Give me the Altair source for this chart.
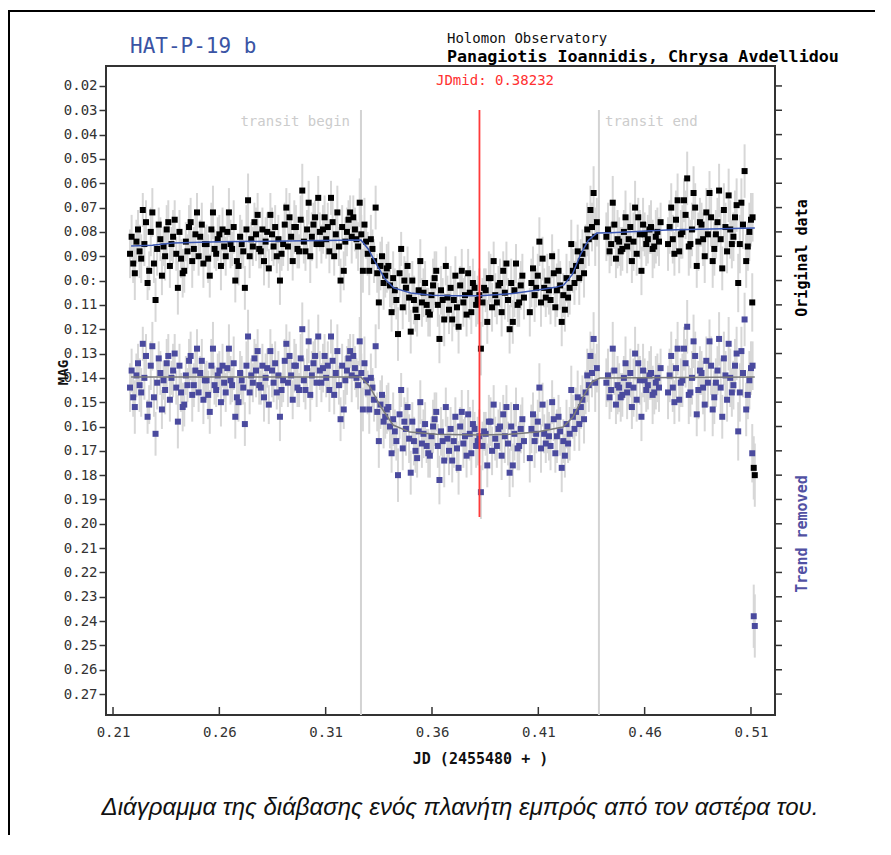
import altair as alt
import pandas as pd

# ---------------- data ----------------
# first batch of exposures
jd = [
    0.2180, 0.2195, 0.2210, 0.2225, 0.2240, 0.2255, 0.2270, 0.2285, 0.2300, 0.2315,
    0.2330, 0.2345, 0.2360, 0.2375, 0.2390, 0.2405, 0.2420, 0.2435, 0.2450, 0.2465,
    0.2480, 0.2495, 0.2510, 0.2525, 0.2540, 0.2555, 0.2570, 0.2585, 0.2600, 0.2615,
    0.2630, 0.2645, 0.2660, 0.2675, 0.2690, 0.2705, 0.2720, 0.2735, 0.2750, 0.2765,
    0.2780, 0.2795, 0.2810, 0.2825, 0.2840, 0.2855, 0.2870, 0.2885, 0.2900, 0.2915,
    0.2930, 0.2945, 0.2960, 0.2975, 0.2990, 0.3005, 0.3020, 0.3035, 0.3050, 0.3065,
    0.3080, 0.3095, 0.3110, 0.3125, 0.3140, 0.3155, 0.3170, 0.3185, 0.3200, 0.3215,
    0.3230, 0.3245, 0.3260, 0.3275, 0.3290, 0.3305, 0.3320, 0.3335, 0.3350, 0.3365,
    0.3380, 0.3395, 0.3410, 0.3425, 0.3440, 0.3455, 0.3470, 0.3485, 0.3500, 0.3515,
    0.3530, 0.3545, 0.3560, 0.3575, 0.3590, 0.3605, 0.3620, 0.3635, 0.3650, 0.3665,
    0.3680, 0.3695, 0.3710, 0.3725, 0.3740, 0.3755, 0.3770, 0.3785, 0.3800, 0.3815,
    0.3830, 0.3845, 0.3860, 0.3875, 0.3890, 0.3905, 0.3920, 0.3935, 0.3950, 0.3965,
    0.3980, 0.3995, 0.4010, 0.4025,
    0.4060, 0.4075, 0.4090, 0.4105, 0.4120, 0.4135, 0.4150, 0.4165, 0.4180, 0.4195,
    0.4210, 0.4225, 0.4240, 0.4255, 0.4270, 0.4285, 0.4300, 0.4315, 0.4330, 0.4345,
    0.4360, 0.4375,
    0.4420, 0.4435, 0.4450, 0.4465, 0.4480, 0.4495, 0.4510, 0.4525, 0.4540, 0.4555,
    0.4570, 0.4585, 0.4600, 0.4615, 0.4630, 0.4645, 0.4660, 0.4675,
    0.4710, 0.4725, 0.4740, 0.4755, 0.4770, 0.4785, 0.4800, 0.4815, 0.4830, 0.4845,
    0.4860, 0.4875, 0.4890, 0.4905, 0.4920, 0.4935, 0.4950, 0.4965, 0.4980, 0.4995,
    0.5010, 0.5025, 0.5040, 0.5055, 0.5070, 0.5085, 0.5100, 0.5106, 0.5113, 0.5118,
]

mag_original = [
    0.089, 0.093, 0.084, 0.088, 0.071, 0.076, 0.096, 0.072, 0.108, 0.077,
    0.098, 0.090, 0.076, 0.085, 0.075, 0.103, 0.091, 0.096, 0.088, 0.076,
    0.087, 0.072, 0.082, 0.093, 0.085, 0.098, 0.072, 0.089, 0.081, 0.079,
    0.090, 0.072, 0.087, 0.100, 0.094, 0.085, 0.103, 0.067, 0.083, 0.076,
    0.073, 0.088, 0.092, 0.080, 0.073, 0.086, 0.090, 0.100, 0.085, 0.070,
    0.074, 0.092, 0.078, 0.088, 0.063, 0.088, 0.068, 0.082, 0.074, 0.066,
    0.085, 0.074, 0.078, 0.066, 0.090, 0.072, 0.100, 0.096, 0.080, 0.072,
    0.074, 0.083, 0.068, 0.096, 0.084, 0.096, 0.087, 0.070, 0.109, 0.090,
    0.098, 0.094, 0.113, 0.104, 0.122, 0.087, 0.100, 0.094, 0.121, 0.108,
    0.115, 0.092, 0.105, 0.110, 0.114, 0.102, 0.096, 0.124, 0.108, 0.094,
    0.112, 0.116, 0.098, 0.119, 0.096, 0.106, 0.097, 0.113, 0.103, 0.108,
    0.128, 0.103, 0.117, 0.099, 0.092, 0.109, 0.101, 0.096, 0.093, 0.120,
    0.117, 0.093, 0.109, 0.098,
    0.113, 0.095, 0.103, 0.084, 0.091, 0.107, 0.104, 0.090, 0.111, 0.096,
    0.117, 0.112, 0.107, 0.085, 0.101, 0.088, 0.092, 0.097, 0.079, 0.071,
    0.064, 0.076,
    0.082, 0.088, 0.068, 0.091, 0.084, 0.087, 0.074, 0.083, 0.092, 0.070,
    0.074, 0.096, 0.081, 0.083, 0.078, 0.086, 0.080, 0.076,
    0.085, 0.070, 0.089, 0.067, 0.081, 0.067, 0.058, 0.085, 0.064, 0.094,
    0.076, 0.083, 0.072, 0.064, 0.092, 0.081, 0.063, 0.095, 0.078, 0.065,
    0.085, 0.074, 0.101, 0.068, 0.055, 0.086, 0.075, 0.109, 0.177, 0.180,
]

mag_trend_removed = [
    0.144, 0.148, 0.139, 0.143, 0.126, 0.131, 0.151, 0.127, 0.163, 0.132,
    0.153, 0.145, 0.131, 0.140, 0.130, 0.158, 0.146, 0.151, 0.143, 0.131,
    0.143, 0.128, 0.138, 0.149, 0.141, 0.154, 0.128, 0.145, 0.137, 0.135,
    0.146, 0.128, 0.143, 0.156, 0.150, 0.141, 0.159, 0.123, 0.139, 0.132,
    0.129, 0.144, 0.148, 0.136, 0.129, 0.142, 0.146, 0.156, 0.141, 0.126,
    0.131, 0.149, 0.135, 0.145, 0.120, 0.145, 0.125, 0.139, 0.131, 0.123,
    0.142, 0.131, 0.135, 0.123, 0.147, 0.129, 0.157, 0.153, 0.137, 0.129,
    0.131, 0.140, 0.125, 0.153, 0.141, 0.153, 0.144, 0.127, 0.166, 0.147,
    0.156, 0.152, 0.171, 0.162, 0.180, 0.145, 0.158, 0.152, 0.179, 0.166,
    0.173, 0.150, 0.163, 0.168, 0.172, 0.160, 0.154, 0.182, 0.166, 0.152,
    0.170, 0.174, 0.156, 0.177, 0.154, 0.164, 0.155, 0.171, 0.161, 0.166,
    0.187, 0.162, 0.176, 0.158, 0.151, 0.168, 0.160, 0.155, 0.152, 0.179,
    0.176, 0.152, 0.168, 0.157,
    0.173, 0.155, 0.163, 0.144, 0.151, 0.167, 0.164, 0.150, 0.171, 0.156,
    0.177, 0.172, 0.167, 0.145, 0.161, 0.148, 0.152, 0.157, 0.139, 0.131,
    0.124, 0.136,
    0.142, 0.148, 0.128, 0.151, 0.144, 0.147, 0.134, 0.143, 0.152, 0.130,
    0.134, 0.156, 0.141, 0.143, 0.138, 0.146, 0.140, 0.136,
    0.146, 0.131, 0.150, 0.128, 0.142, 0.128, 0.119, 0.146, 0.125, 0.155,
    0.137, 0.144, 0.133, 0.125, 0.153, 0.142, 0.124, 0.156, 0.139, 0.126,
    0.146, 0.135, 0.162, 0.129, 0.116, 0.147, 0.136, 0.171, 0.238, 0.242,
]

mag_error = [
    0.010, 0.008, 0.009, 0.011, 0.007, 0.009, 0.008, 0.010, 0.009, 0.007,
    0.008, 0.010, 0.009, 0.007, 0.008, 0.011, 0.008, 0.009, 0.007, 0.010,
    0.009, 0.008, 0.007, 0.010, 0.008, 0.009, 0.011, 0.007, 0.008, 0.009,
    0.008, 0.010, 0.007, 0.009, 0.008, 0.010, 0.009, 0.011, 0.007, 0.008,
    0.009, 0.007, 0.010, 0.008, 0.009, 0.008, 0.007, 0.010, 0.009, 0.008,
    0.010, 0.008, 0.009, 0.007, 0.011, 0.008, 0.009, 0.010, 0.007, 0.009,
    0.008, 0.009, 0.010, 0.007, 0.008, 0.011, 0.009, 0.008, 0.010, 0.007,
    0.009, 0.008, 0.010, 0.009, 0.007, 0.010, 0.008, 0.009, 0.011, 0.008,
    0.009, 0.010, 0.008, 0.009, 0.011, 0.007, 0.010, 0.008, 0.009, 0.010,
    0.008, 0.009, 0.010, 0.007, 0.009, 0.011, 0.008, 0.010, 0.009, 0.008,
    0.010, 0.009, 0.008, 0.011, 0.009, 0.008, 0.010, 0.009, 0.007, 0.010,
    0.011, 0.008, 0.009, 0.010, 0.008, 0.009, 0.010, 0.008, 0.009, 0.010,
    0.009, 0.008, 0.010, 0.009,
    0.010, 0.009, 0.008, 0.010, 0.009, 0.008, 0.010, 0.009, 0.008, 0.009,
    0.010, 0.009, 0.008, 0.010, 0.009, 0.011, 0.009, 0.010, 0.011, 0.010,
    0.011, 0.010,
    0.010, 0.009, 0.011, 0.008, 0.010, 0.009, 0.011, 0.010, 0.009, 0.011,
    0.008, 0.010, 0.009, 0.010, 0.011, 0.009, 0.010, 0.008,
    0.011, 0.010, 0.009, 0.011, 0.010, 0.009, 0.011, 0.010, 0.011, 0.009,
    0.010, 0.011, 0.010, 0.009, 0.011, 0.010, 0.011, 0.009, 0.010, 0.011,
    0.010, 0.011, 0.012, 0.010, 0.011, 0.010, 0.011, 0.012, 0.013, 0.013,
]

# second (interleaved) batch of exposures
jd_b = [
    0.21875, 0.22025, 0.22175, 0.22325, 0.22475, 0.22625, 0.22775, 0.22925, 0.23075, 0.23225,
    0.23375, 0.23525, 0.23675, 0.23825, 0.23975, 0.24125, 0.24275, 0.24425, 0.24575, 0.24725,
    0.24875, 0.25025, 0.25175, 0.25325, 0.25475, 0.25625, 0.25775, 0.25925, 0.26075, 0.26225,
    0.26375, 0.26525, 0.26675, 0.26825, 0.26975, 0.27125, 0.27275, 0.27425, 0.27575, 0.27725,
    0.27875, 0.28025, 0.28175, 0.28325, 0.28475, 0.28625, 0.28775, 0.28925, 0.29075, 0.29225,
    0.29375, 0.29525, 0.29675, 0.29825, 0.29975, 0.30125, 0.30275, 0.30425, 0.30575, 0.30725,
    0.30875, 0.31025, 0.31175, 0.31325, 0.31475, 0.31625, 0.31775, 0.31925, 0.32075, 0.32225,
    0.32375, 0.32525, 0.32675, 0.32825, 0.32975, 0.33125, 0.33275, 0.33425, 0.33575, 0.33725,
    0.33875, 0.34025, 0.34175, 0.34325, 0.34475, 0.34625, 0.34775, 0.34925, 0.35075, 0.35225,
    0.35375, 0.35525, 0.35675, 0.35825, 0.35975, 0.36125, 0.36275, 0.36425, 0.36575, 0.36725,
    0.36875, 0.37025, 0.37175, 0.37325, 0.37475, 0.37625, 0.37775, 0.37925, 0.38075, 0.38225,
    0.38375, 0.38525, 0.38675, 0.38825, 0.38975, 0.39125, 0.39275, 0.39425, 0.39575, 0.39725,
    0.39875, 0.40025, 0.40175, 0.40325,
    0.40675, 0.40825, 0.40975, 0.41125, 0.41275, 0.41425, 0.41575, 0.41725, 0.41875, 0.42025,
    0.42175, 0.42325, 0.42475, 0.42625, 0.42775, 0.42925, 0.43075, 0.43225, 0.43375, 0.43525,
    0.43675,
    0.44275, 0.44425, 0.44575, 0.44725, 0.44875, 0.45025, 0.45175, 0.45325, 0.45475, 0.45625,
    0.45775, 0.45925, 0.46075, 0.46225, 0.46375, 0.46525, 0.46675,
    0.47175, 0.47325, 0.47475, 0.47625, 0.47775, 0.47925, 0.48075, 0.48225, 0.48375, 0.48525,
    0.48675, 0.48825, 0.48975, 0.49125, 0.49275, 0.49425, 0.49575, 0.49725, 0.49875, 0.50025,
    0.50175, 0.50325, 0.50475, 0.50625, 0.50775, 0.50925, 0.51075,
]

mag_original_b = [
    0.082, 0.097, 0.079, 0.091, 0.085, 0.101, 0.080, 0.093, 0.087, 0.083,
    0.086, 0.079, 0.094, 0.082, 0.089, 0.080, 0.097, 0.084, 0.078, 0.092,
    0.081, 0.090, 0.077, 0.085, 0.091, 0.079, 0.087, 0.083, 0.094, 0.086,
    0.080, 0.085, 0.078, 0.092, 0.082, 0.088, 0.079, 0.090, 0.086, 0.081,
    0.087, 0.079, 0.084, 0.095, 0.081, 0.078, 0.083, 0.089, 0.077, 0.086,
    0.082, 0.078, 0.087, 0.075, 0.084, 0.079, 0.090, 0.077, 0.085, 0.080,
    0.079, 0.083, 0.088, 0.076, 0.081, 0.086, 0.078, 0.084, 0.075, 0.082,
    0.079, 0.086, 0.081, 0.077, 0.089, 0.083, 0.092, 0.097, 0.094, 0.101,
    0.095, 0.102, 0.099, 0.108, 0.097, 0.111, 0.103, 0.107, 0.100, 0.112,
    0.104, 0.109, 0.101, 0.113, 0.106, 0.099, 0.110, 0.104, 0.116, 0.107,
    0.103, 0.108, 0.111, 0.102, 0.109, 0.114, 0.105, 0.101, 0.110, 0.106,
    0.109, 0.104, 0.099, 0.111, 0.106, 0.102, 0.113, 0.105, 0.108, 0.101,
    0.104, 0.110, 0.102, 0.107,
    0.101, 0.106, 0.098, 0.109, 0.103, 0.100, 0.108, 0.097, 0.104, 0.102,
    0.106, 0.099, 0.103, 0.096, 0.094, 0.099, 0.089, 0.086, 0.083, 0.078,
    0.082,
    0.079, 0.085, 0.077, 0.083, 0.088, 0.080, 0.086, 0.078, 0.084, 0.089,
    0.081, 0.077, 0.085, 0.079, 0.087, 0.082, 0.084,
    0.078, 0.083, 0.075, 0.088, 0.080, 0.073, 0.086, 0.079, 0.070, 0.084,
    0.077, 0.090, 0.081, 0.074, 0.087, 0.076, 0.083, 0.071, 0.088, 0.079,
    0.082, 0.069, 0.085, 0.077, 0.092, 0.080, 0.074,
]

mag_trend_removed_b = [
    0.137, 0.152, 0.134, 0.146, 0.140, 0.156, 0.135, 0.148, 0.142, 0.138,
    0.141, 0.134, 0.149, 0.137, 0.144, 0.135, 0.152, 0.139, 0.133, 0.147,
    0.137, 0.146, 0.133, 0.141, 0.147, 0.135, 0.143, 0.139, 0.150, 0.142,
    0.136, 0.141, 0.134, 0.148, 0.138, 0.144, 0.135, 0.146, 0.142, 0.137,
    0.143, 0.135, 0.140, 0.151, 0.137, 0.134, 0.139, 0.145, 0.133, 0.142,
    0.139, 0.135, 0.144, 0.132, 0.141, 0.136, 0.147, 0.134, 0.142, 0.137,
    0.136, 0.140, 0.145, 0.133, 0.138, 0.143, 0.135, 0.141, 0.132, 0.139,
    0.136, 0.143, 0.138, 0.134, 0.146, 0.140, 0.149, 0.154, 0.151, 0.158,
    0.153, 0.160, 0.157, 0.166, 0.155, 0.169, 0.161, 0.165, 0.158, 0.170,
    0.162, 0.167, 0.159, 0.171, 0.164, 0.157, 0.168, 0.162, 0.174, 0.165,
    0.161, 0.166, 0.169, 0.160, 0.167, 0.172, 0.163, 0.159, 0.168, 0.164,
    0.168, 0.163, 0.158, 0.170, 0.165, 0.161, 0.172, 0.164, 0.167, 0.160,
    0.163, 0.169, 0.161, 0.166,
    0.161, 0.166, 0.158, 0.169, 0.163, 0.160, 0.168, 0.157, 0.164, 0.162,
    0.166, 0.159, 0.163, 0.156, 0.154, 0.159, 0.149, 0.146, 0.143, 0.138,
    0.142,
    0.139, 0.145, 0.137, 0.143, 0.148, 0.140, 0.146, 0.138, 0.144, 0.149,
    0.141, 0.137, 0.145, 0.139, 0.147, 0.142, 0.144,
    0.139, 0.144, 0.136, 0.149, 0.141, 0.134, 0.147, 0.140, 0.131, 0.145,
    0.138, 0.151, 0.142, 0.135, 0.148, 0.137, 0.144, 0.132, 0.149, 0.140,
    0.143, 0.130, 0.146, 0.138, 0.153, 0.141, 0.135,
]

mag_error_b = [
    0.009, 0.011, 0.008, 0.010, 0.009, 0.007, 0.010, 0.008, 0.011, 0.009,
    0.008, 0.010, 0.009, 0.011, 0.007, 0.009, 0.010, 0.008, 0.009, 0.011,
    0.010, 0.008, 0.009, 0.007, 0.010, 0.011, 0.008, 0.009, 0.010, 0.008,
    0.009, 0.010, 0.011, 0.008, 0.009, 0.007, 0.010, 0.009, 0.008, 0.011,
    0.008, 0.009, 0.010, 0.008, 0.011, 0.009, 0.010, 0.007, 0.009, 0.010,
    0.009, 0.011, 0.008, 0.010, 0.009, 0.008, 0.011, 0.009, 0.010, 0.008,
    0.010, 0.008, 0.009, 0.011, 0.010, 0.008, 0.009, 0.010, 0.008, 0.011,
    0.009, 0.010, 0.008, 0.011, 0.009, 0.010, 0.009, 0.008, 0.010, 0.011,
    0.010, 0.009, 0.011, 0.008, 0.010, 0.009, 0.011, 0.010, 0.008, 0.009,
    0.011, 0.010, 0.009, 0.010, 0.008, 0.011, 0.009, 0.010, 0.011, 0.009,
    0.009, 0.011, 0.010, 0.008, 0.010, 0.009, 0.011, 0.010, 0.009, 0.011,
    0.010, 0.009, 0.011, 0.010, 0.009, 0.008, 0.010, 0.011, 0.009, 0.010,
    0.011, 0.009, 0.010, 0.009,
    0.010, 0.011, 0.009, 0.010, 0.008, 0.011, 0.010, 0.009, 0.011, 0.010,
    0.009, 0.010, 0.011, 0.009, 0.010, 0.011, 0.010, 0.009, 0.011, 0.010,
    0.012,
    0.011, 0.009, 0.010, 0.012, 0.010, 0.009, 0.011, 0.010, 0.012, 0.009,
    0.010, 0.011, 0.009, 0.010, 0.012, 0.011, 0.010,
    0.011, 0.010, 0.012, 0.009, 0.011, 0.010, 0.012, 0.011, 0.010, 0.012,
    0.009, 0.011, 0.010, 0.012, 0.011, 0.010, 0.012, 0.011, 0.009, 0.012,
    0.010, 0.011, 0.012, 0.010, 0.011, 0.012, 0.010,
]

# transit model fitted to the original data (blue line)
fit_jd = [0.2185, 0.2285, 0.2380, 0.2600, 0.3000, 0.3266, 0.3300, 0.3340, 0.3380,
          0.3420, 0.3500, 0.3600, 0.3700, 0.3825, 0.3980, 0.4090, 0.4180, 0.4220,
          0.4260, 0.4300, 0.4335, 0.4375, 0.4440, 0.4705, 0.5118]
fit_mag = [0.0858, 0.0855, 0.0846, 0.0841, 0.0836, 0.0833, 0.0870, 0.0935, 0.0995,
           0.1030, 0.1051, 0.1060, 0.1063, 0.1062, 0.1053, 0.1040, 0.1028, 0.1018,
           0.0975, 0.0890, 0.0835, 0.0805, 0.0803, 0.0792, 0.0784]

# transit model for the trend-removed data (grey line)
model_jd = [0.2185, 0.3266, 0.3308, 0.3360, 0.3417, 0.3496, 0.3623, 0.3825, 0.3967,
            0.4094, 0.4216, 0.4263, 0.4310, 0.4352, 0.4390, 0.5118]
model_mag = [0.1397, 0.1397, 0.1437, 0.1520, 0.1594, 0.1623, 0.1632, 0.1635, 0.1632,
             0.1623, 0.1602, 0.1561, 0.1479, 0.1417, 0.1401, 0.1397]

jd_mid = [0.38232]
transit_marks = [0.3266, 0.4385]

x_ticks = [0.21, 0.26, 0.31, 0.36, 0.41, 0.46, 0.51]
y_ticks = [0.02, 0.03, 0.04, 0.05, 0.06, 0.07, 0.08, 0.09, 0.10, 0.11, 0.12, 0.13, 0.14,
           0.15, 0.16, 0.17, 0.18, 0.19, 0.20, 0.21, 0.22, 0.23, 0.24, 0.25, 0.26, 0.27]
y_tick_labels = ["0.02", "0.03", "0.04", "0.05", "0.06", "0.07", "0.08", "0.09", "0.0:",
                 "0.11", "0.12", "0.13", "0.14", "0.15", "0.16", "0.17", "0.18", "0.19",
                 "0.20", "0.21", "0.22", "0.23", "0.24", "0.25", "0.26", "0.27"]

title_text = "HAT-P-19 b"
observatory_text = "Holomon Observatory"
authors_text = "Panagiotis Ioannidis, Chrysa Avdellidou"
jdmid_text = "JDmid: 0.38232"
begin_text = "transit begin"
end_text = "transit end"
original_text = "Original data"
trend_text = "Trend removed"
x_title = "JD (2455480 + )"
y_title = "MAG"
caption_text = "Διάγραμμα της διάβασης ενός πλανήτη εμπρός από τον αστέρα του."

# ---------------- chart ----------------
W, H = 669, 649
MONO = "DejaVu Sans Mono"

obs = pd.DataFrame({
    "jd": jd + jd_b,
    "orig": mag_original + mag_original_b,
    "detr": mag_trend_removed + mag_trend_removed_b,
    "err": mag_error + mag_error_b,
})

xs = alt.Scale(domain=[0.2067, 0.5213], nice=False, zero=False)
ys = alt.Scale(domain=[0.0118, 0.2786], reverse=True, nice=False, zero=False)

label_expr = "[" + ",".join("'%s'" % s for s in y_tick_labels) + "][round(datum.value*100)-2]"

x_axis = alt.Axis(values=x_ticks, format=".2f", ticks=False, grid=False, domain=False,
                  labelFont=MONO, labelFontSize=14, labelColor="#333", labelPadding=10,
                  title=x_title, titleFont=MONO, titleFontSize=15, titleFontWeight="bold",
                  titleColor="#111", titleX=374, titleY=43, titleBaseline="middle",
                  titleAlign="center")
y_axis = alt.Axis(values=y_ticks, labelExpr=label_expr, grid=False, domain=False,
                  tickSize=7, tickWidth=1.5, tickColor="#333",
                  labelFont=MONO, labelFontSize=14, labelColor="#333", labelPadding=2,
                  title=y_title, titleFont=MONO, titleFontSize=14, titleFontWeight="bold",
                  titleColor="#111", titleAngle=270, titleX=-43, titleY=306,
                  titleAlign="center", titleBaseline="middle")


def X(field):
    return alt.X(field, type="quantitative", scale=xs, axis=x_axis)


def Y(field):
    return alt.Y(field, type="quantitative", scale=ys, axis=y_axis)


base = alt.Chart(obs)

err_orig = base.transform_calculate(
    lo="datum.orig - datum.err", hi="datum.orig + datum.err"
).mark_rule(color="#d7d7d7", strokeWidth=2).encode(x=X("jd"), y=Y("lo"), y2="hi:Q")
err_detr = base.transform_calculate(
    lo="datum.detr - datum.err", hi="datum.detr + datum.err"
).mark_rule(color="#d7d7d7", strokeWidth=2).encode(x=X("jd"), y=Y("lo"), y2="hi:Q")

tr_lines = alt.Chart(pd.DataFrame({"jd": transit_marks})).mark_rule(
    color="#d3d3d3", strokeWidth=2
).encode(x=X("jd"), y=alt.value(44), y2=alt.value(H))

pts_orig = base.mark_square(size=36, color="#000000", opacity=1).encode(
    x=X("jd"), y=Y("orig"))
pts_detr = base.mark_square(size=36, color="#4a4a9e", opacity=1).encode(
    x=X("jd"), y=Y("detr"))

fit_line = alt.Chart(pd.DataFrame({"jd": fit_jd, "m": fit_mag})).mark_line(
    color="#3b57b3", strokeWidth=1.5
).encode(x=X("jd"), y=Y("m"))
model_line = alt.Chart(pd.DataFrame({"jd": model_jd, "m": model_mag})).mark_line(
    color="#7b7b7b", strokeWidth=1.5
).encode(x=X("jd"), y=Y("m"))

mid_line = alt.Chart(pd.DataFrame({"jd": jd_mid})).mark_rule(
    color="#ff3a3a", strokeWidth=1.8
).encode(x=X("jd"), y=alt.value(44), y2=alt.value(451))

right_ticks = alt.Chart(pd.DataFrame({"v": y_ticks})).mark_rule(
    color="#333", strokeWidth=1.5
).encode(y=Y("v"), x=alt.value(W), x2=alt.value(W + 7))
bottom_ticks = alt.Chart(pd.DataFrame({"jd": x_ticks})).mark_rule(
    color="#333", strokeWidth=1.5
).encode(x=X("jd"), y=alt.value(H), y2=alt.value(H - 8))

one = pd.DataFrame({"k": [0]})
frame_top = alt.Chart(one).mark_rule(color="#000", strokeWidth=2).encode(
    x=alt.value(-98), x2=alt.value(W + 100), y=alt.value(-55))
frame_left = alt.Chart(one).mark_rule(color="#000", strokeWidth=2).encode(
    x=alt.value(-97), y=alt.value(-55), y2=alt.value(H + 120))


def label(text, x, y, **kw):
    return alt.Chart(pd.DataFrame({"t": [text]})).mark_text(**kw).encode(
        text="t:N", x=alt.value(x), y=alt.value(y))


texts = [
    label(title_text, 24, -19, font=MONO, fontSize=21, color="#3a54a4", align="left",
          baseline="middle"),
    label(observatory_text, 341, -27, font=MONO, fontSize=14, color="#111", align="left",
          baseline="middle"),
    label(authors_text, 341, -9, font=MONO, fontSize=16.7, fontWeight="bold",
          color="#000", align="left", baseline="middle"),
    label(jdmid_text, 389, 15, font=MONO, fontSize=14, color="#ff3030", align="center",
          baseline="middle"),
    label(begin_text, 244, 56, font=MONO, fontSize=14, color="#cccccc", align="right",
          baseline="middle"),
    label(end_text, 499, 56, font=MONO, fontSize=14, color="#cccccc", align="left",
          baseline="middle"),
    label(original_text, 696, 192, font=MONO, fontSize=15, fontWeight="bold",
          color="#000", angle=270, align="center", baseline="middle"),
    label(trend_text, 696, 468, font=MONO, fontSize=15, fontWeight="bold",
          color="#5151a3", angle=270, align="center", baseline="middle"),
    label(caption_text, 354, 742, font="Liberation Sans", fontSize=24, fontStyle="italic",
          color="#111", align="center", baseline="middle"),
]

chart = alt.layer(
    err_orig, err_detr, tr_lines, pts_orig, pts_detr, fit_line, model_line, mid_line,
    right_ticks, bottom_ticks, frame_top, frame_left, *texts
).properties(
    width=W, height=H,
    autosize=alt.AutoSizeParams(type="none"),
    padding={"left": 98, "top": 58, "right": 100, "bottom": 120},
    background="white",
).configure_view(stroke="#333", strokeWidth=2)

chart.save("out.html", embed_options={"renderer": "svg", "actions": False})
